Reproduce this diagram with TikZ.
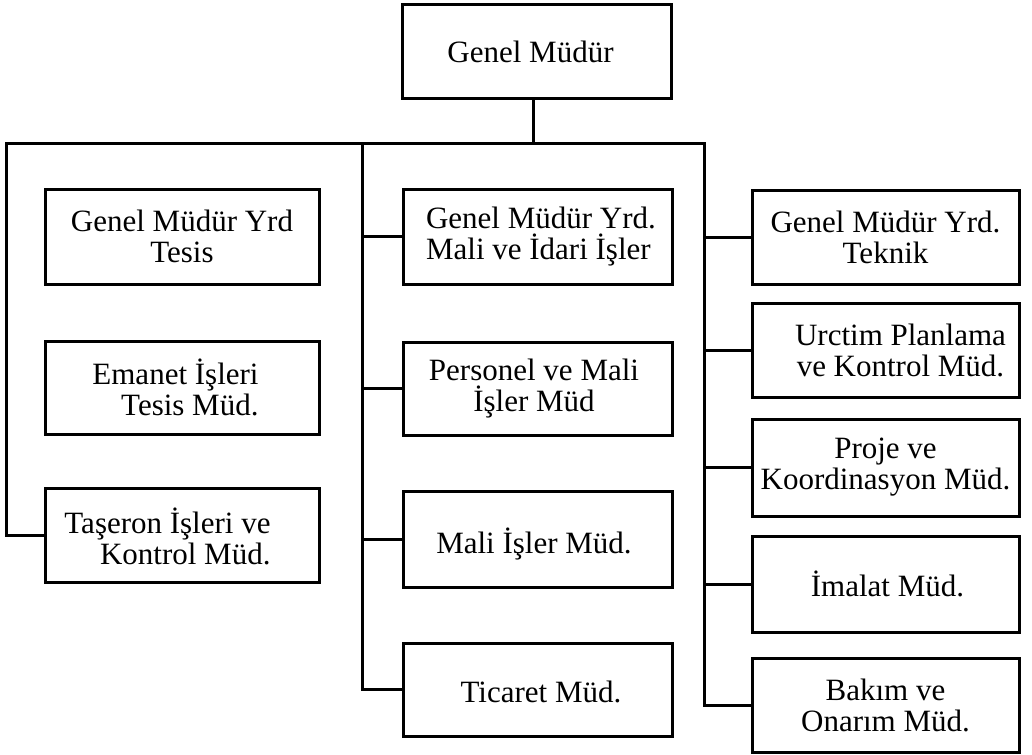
\documentclass[tikz,border=0pt]{standalone}
\usepackage{fontspec}
\setmainfont{Liberation Serif}
\begin{document}
\begin{tikzpicture}[x=1pt,y=-1pt,
  line width=3pt,
  box/.style={draw=black, rectangle, inner sep=0pt, minimum height=94pt},
  lbox/.style={box, minimum width=274pt},
  mbox/.style={box, minimum width=269pt},
  rbox/.style={box, minimum width=267pt},
  txt/.style={inner sep=0pt, align=center, font=\fontsize{31}{31}\selectfont},
  wire/.style={draw=black, line width=3pt}]
\useasboundingbox (0,0) rectangle (1032,754);

% boxes
\node[box, minimum width=269pt] (gm) at (536.5,52) {};
\node[lbox, minimum height=95pt] (L1) at (182,236.5) {};
\node[lbox, minimum height=93pt] (L2) at (182,387.5) {};
\node[lbox] (L3) at (182,535) {};
\node[mbox, minimum height=95pt] (M1) at (537.5,236.5) {};
\node[mbox, minimum height=93pt] (M2) at (537.5,388.5) {};
\node[mbox, minimum height=96pt] (M3) at (537.5,539) {};
\node[mbox, minimum height=93pt] (M4) at (537.5,689.5) {};
\node[rbox] (R1) at (885.5,237) {};
\node[rbox] (R2) at (885.5,350) {};
\node[rbox, minimum height=97pt] (R3) at (885.5,467.5) {};
\node[rbox, minimum height=96pt] (R4) at (885.5,584) {};
\node[rbox] (R5) at (885.5,705) {};

% labels
\node[txt] (gm-t) at ([xshift=-6pt]gm.center) {Genel Müdür};
\node[txt] (L1-t) at (L1.center) {Genel Müdür Yrd\\Tesis};
\node[txt, align=right] (L2-t) at ([xshift=-6.5pt]L2.center) {Emanet İşleri\\Tesis Müd.};
\node[txt, align=right] (L3-t) at ([xshift=-14.5pt,yshift=-1pt]L3.center) {Taşeron İşleri ve\\Kontrol Müd.};
\node[txt, align=left] (M1-t) at ([xshift=3.5pt]M1.center) {Genel Müdür Yrd.\\Mali ve İdari İşler};
\node[txt] (M2-t) at ([xshift=-3.5pt]M2.center) {Personel ve Mali\\İşler Müd};
\node[txt] (M3-t) at ([xshift=-3.5pt,yshift=-5pt]M3.center) {Mali İşler Müd.};
\node[txt] (M4-t) at ([xshift=3.5pt,yshift=-2pt]M4.center) {Ticaret Müd.};
\node[txt] (R1-t) at (R1.center) {Genel Müdür Yrd.\\Teknik};
\node[txt] (R2-t) at ([xshift=15pt]R2.center) {Urctim Planlama\\ve Kontrol Müd.};
\node[txt] (R3-t) at (R3.center) {Proje ve\\Koordinasyon Müd.};
\node[txt] (R4-t) at ([xshift=2pt]R4.center) {İmalat Müd.};
\node[txt] (R5-t) at (R5.center) {Bakım ve\\Onarım Müd.};

% bus points
\coordinate (busT) at (533,144);
\coordinate (busL) at (6,144);
\coordinate (busM) at (362,144);
\coordinate (busR) at (704,144);

% connectors
\draw[wire] (gm.south -| busT) -- (busT);
\draw[wire, line join=miter] (L3.west) -| (busL) -- (busR) |- (R5.west);
\draw[wire, line join=miter] (busM) |- (M4.west);
\draw[wire] (M1.west) -- (M1.west -| busM);
\draw[wire] (M2.west) -- (M2.west -| busM);
\draw[wire] (M3.west) -- (M3.west -| busM);
\draw[wire] (R1.west) -- (R1.west -| busR);
\draw[wire] (R2.west) -- (R2.west -| busR);
\draw[wire] (R3.west) -- (R3.west -| busR);
\draw[wire] (R4.west) -- (R4.west -| busR);
\end{tikzpicture}
\end{document}
